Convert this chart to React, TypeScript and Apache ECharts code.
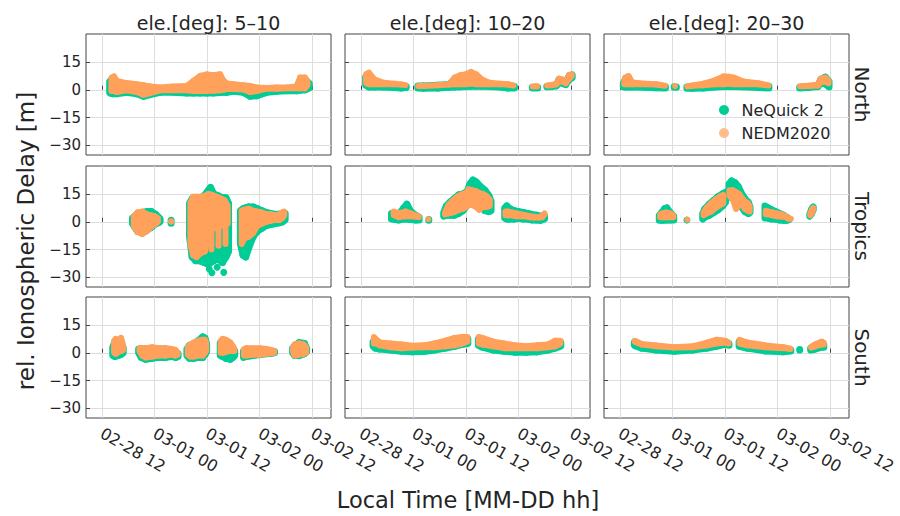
import React, { useEffect, useRef } from 'react';
import * as echarts from 'echarts';

// ---------- axis ticks / labels ----------
const X_TICKS = [12, 24, 36, 48, 60]; // hours since 02-28 00:00
const X_TICK_LABELS = ['02-28 12', '03-01 00', '03-01 12', '03-02 00', '03-02 12'];
const Y_TICKS = [-30, -15, 0, 15];
const Y_TICK_LABELS = ['\u221230', '\u221215', '0', '15'];
const COL_TITLES = ['ele.[deg]: 5\u201310', 'ele.[deg]: 10\u201320', 'ele.[deg]: 20\u201330'];
const ROW_TITLES = ['North', 'Tropics', 'South'];
const SERIES_NAMES = ['NeQuick 2', 'NEDM2020'];

// ---------- data: clusters of [hour, low, high] (m) ----------
// North
const NQ_N1 = [
  [[13.8,-1.7,4.4],[14.4,-2.1,6.0],[15.41,-2.1,4.0],[17.69,-1.4,2.8],[19.97,-2.1,2.3],[21.49,-3.5,1.8],[23.01,-2.6,1.2],[25.29,-1.4,0.6],[28.33,-1.4,1.0],[31.37,-1.7,1.2],[32.89,-1.7,3.5],[34.41,-1.7,6.0],[35.93,-1.7,7.0],[37.44,-1.7,6.5],[38.96,-1.5,6.5],[40.48,-1.4,2.5],[42.0,-0.8,2.2],[44.28,-1.4,1.8],[45.8,-3.5,1.2],[47.32,-3.2,0.6],[49.6,-1.4,0.3],[51.88,-0.8,0.4],[54.16,-0.5,0.5],[56.44,-0.5,1.0],[57.2,-0.2,5.0],[58.34,0.0,5.5],[59.3,1.0,3.5]],
];
const ED_N1 = [
  [[14.2,-0.7,6.5],[14.8,-0.7,7.2],[15.41,-1.2,4.8],[17.69,-0.3,3.6],[19.97,-1.2,3.0],[21.49,-2.7,2.5],[23.01,-1.8,1.8],[25.29,-0.3,1.2],[28.33,-0.3,1.8],[31.37,-0.3,2.1],[32.89,-0.7,4.8],[34.41,-0.7,7.5],[35.93,-0.7,8.3],[37.44,-0.5,7.9],[38.96,-0.2,8.4],[39.7,0.0,5.0],[40.48,0.4,3.4],[42.0,0.4,3.0],[44.28,0.2,2.5],[45.8,-1.2,2.1],[47.32,-0.7,1.2],[49.6,0.6,1.0],[51.88,0.6,1.2],[54.16,0.8,1.2],[56.44,0.8,1.8],[57.2,0.8,6.6],[58.3,0.8,6.6],[58.9,2.5,4.5]],
];
const NQ_N2 = [
  [[13.1,2.5,7.0],[13.84,1.5,8.0],[15.09,1.5,4.5],[17.16,1.5,3.0],[19.66,1.2,2.6],[21.2,1.0,2.2],[22.35,1.2,1.8]],
  [[25.0,1.0,2.0],[26.31,0.8,2.0],[29.64,0.9,2.4],[32.13,1.4,2.8],[33.38,1.5,5.5],[34.63,1.6,6.8],[35.88,1.7,7.3],[37.12,1.9,8.6],[38.37,1.9,7.3],[39.62,1.9,4.6],[41.28,1.8,3.0],[43.78,1.5,2.5],[45.5,1.0,2.2],[47.0,1.0,1.8]],
  [[51.1,1.0,1.4],[52.3,1.0,1.4]],
  [[54.4,1.6,1.8],[55.5,1.8,2.0],[56.6,2.2,2.6],[57.2,4.0,5.5],[58.0,3.5,5.0],[58.7,2.8,4.0],[59.5,5.5,7.5],[60.2,6.5,8.0]],
];
const ED_N2 = [
  [[13.2,3.6,8.4],[13.84,3.0,9.2],[15.09,3.0,5.6],[17.16,3.0,3.8],[19.66,3.0,3.3],[21.2,2.8,2.8],[22.2,2.5,2.5]],
  [[25.1,2.1,2.1],[26.31,2.1,2.1],[29.64,2.5,2.5],[32.13,2.9,3.0],[33.38,3.0,6.5],[34.63,3.0,7.8],[35.88,3.0,8.3],[37.12,3.4,9.6],[38.37,3.0,8.3],[39.62,3.0,5.6],[41.28,3.0,3.8],[43.78,3.0,3.3],[45.5,2.8,3.0],[46.8,2.3,2.3]],
  [[51.2,1.8,1.8],[52.2,1.9,1.9]],
  [[54.5,2.3,2.3],[55.5,2.5,2.6],[56.6,3.0,3.2],[57.2,4.5,6.0],[58.0,4.5,5.5],[58.7,3.5,4.0],[59.5,6.0,8.0],[60.1,7.5,8.2]],
];
const NQ_N3 = [
  [[12.8,1.6,3.6],[13.24,1.5,5.5],[14.0,1.5,6.5],[14.8,1.5,3.0],[17.79,1.3,2.5],[20.28,1.1,2.2],[22.4,1.0,1.6]],
  [[24.4,1.3,1.6],[24.9,1.3,1.5]],
  [[27.3,0.8,1.5],[28.57,0.8,1.8],[31.06,1.0,2.5],[33.55,1.5,4.0],[35.62,1.8,6.2],[36.86,1.8,6.0],[38.11,1.8,5.5],[40.18,1.6,3.5],[43.5,1.2,2.6],[46.0,1.0,1.8]],
  [[53.0,1.0,1.4],[55.1,1.3,1.6],[57.17,1.8,2.2],[57.8,3.5,5.5],[58.83,3.2,6.8],[59.7,1.5,4.5]],
];
const ED_N3 = [
  [[13.0,3.0,4.0],[13.24,3.0,6.5],[14.0,3.0,7.4],[14.8,3.0,4.0],[17.79,3.0,3.3],[20.28,2.8,3.0],[22.3,2.2,2.2]],
  [[24.6,2.0,2.0]],
  [[27.4,1.8,1.8],[28.57,2.2,2.3],[31.06,2.5,3.3],[33.55,3.0,5.0],[35.62,3.0,7.2],[36.86,3.2,7.0],[38.11,3.0,6.5],[40.18,3.0,4.5],[43.5,3.0,3.5],[45.9,2.3,2.5]],
  [[53.1,1.9,1.9],[55.1,2.0,2.2],[57.17,2.3,2.8],[57.8,4.0,6.0],[58.83,4.5,6.5],[59.6,3.5,5.0]],
];
// Tropics
const NQ_T1 = [
  [[19.0,-1.0,2.0],[20.1,-5.0,4.0],[21.2,-6.0,5.0],[22.3,-4.5,5.5],[23.3,-3.0,5.5],[24.3,-1.0,4.0],[24.9,-0.5,2.5],[25.3,0.0,1.5]],
  [[27.8,-0.8,0.8]],
  [[32.0,-8,10],[32.6,-19,12.5],[33.4,-21,13],[34.3,-21,12.5],[35.3,-22,14],[36.3,-23,17],[36.8,-22,18.5],[37.5,-21,15],[38.5,-20,14],[39.5,-22,13],[40.3,-19,13],[40.9,-16,10]],
  [[36.5,-25.5,-25.5]],
  [[37.1,-27.5,-27.5]],
  [[38.3,-24.5,-24.5]],
  [[39.8,-27.3,-27.3]],
  [[43.6,-12,6],[44.2,-18,7],[44.8,-19,7.5],[45.5,-14,8],[46.5,-8,8],[47.5,-5,7],[48.5,-3.5,6],[49.5,-2,5],[50.5,-1.5,4.5],[51.5,-1,4],[52.5,-0.5,4],[53.2,0,4.5],[53.8,1,4.5]],
];
const ED_T1 = [
  [[19.3,-2.0,3.0],[20.1,-5.5,5.0],[21.2,-6.5,5.5],[22.3,-5.0,4.0],[23.1,-3.0,3.5],[24.0,-1.5,3.0],[24.8,0.0,2.0]],
  [[27.8,0.0,0.3]],
  [[32.2,-12,10],[32.8,-18,13.5],[33.6,-19,13.5],[34.5,-17,13.5],[35.5,-16,14],[36.3,-6,15],[37.2,-4,14.5],[38.2,-3,13.5],[39.2,-2,12.5],[40.0,-2,11.5],[40.7,-1,8.5]],
  [[37.0,-15,-6]],
  [[38.6,-13,-3]],
  [[40.2,-12,-2]],
  [[43.9,-12,6],[44.5,-9,6.5],[45.5,-8,7],[46.5,-6,6],[47.5,-2,5.5],[48.5,-1,5],[49.5,0,4],[50.5,0.5,4],[51.5,1,3.5],[52.5,1,4],[53.1,2,5],[53.6,3.5,5.5]],
];
const NQ_T2 = [
  [[19.0,1.5,4.5],[20.7,1.0,4.0],[21.8,1.5,7.5],[22.5,1.5,9.5],[23.4,1.2,5.5],[24.5,1.0,3.5],[25.3,1.0,2.5]],
  [[27.5,0.8,1.2]],
  [[30.9,3.0,5.0],[31.5,3.5,8.5],[32.3,3.5,10.5],[33.3,3.5,12.5],[34.3,4.5,14.5],[35.3,6.0,15.0],[36.3,9.0,16.5],[36.9,10.0,20.5],[37.6,9.5,22.5],[38.3,9.5,21.5],[39.3,8.0,19.0],[40.3,6.0,17.0],[41.2,5.5,14.0],[41.7,6.0,11.0]],
  [[44.8,2.0,7.5],[45.3,1.5,8.5],[46.0,1.5,7.0],[47.0,1.5,6.0],[48.0,2.0,5.5],[49.0,1.5,5.0],[50.0,1.5,4.5],[51.0,1.0,4.0],[52.0,1.0,3.5],[53.0,0.8,3.0],[53.9,1.5,3.0]],
];
const ED_T2 = [
  [[19.5,3.5,5.5],[20.7,2.5,4.5],[22.2,3.0,5.5],[23.4,3.0,4.5],[24.5,2.8,3.5],[25.2,2.5,2.8]],
  [[27.4,1.4,1.4]],
  [[31.2,4.0,5.0],[32.0,4.5,9.0],[32.8,5.0,11.0],[33.5,5.5,12.5],[34.3,6.5,14.0],[35.3,7.0,15.0],[36.0,8.0,15.5],[36.6,9.0,17.5],[37.4,9.0,17.0],[38.3,8.0,16.5],[39.0,6.5,15.5],[39.8,8.0,15.0],[40.6,8.0,14.0],[41.4,8.5,12.0]],
  [[45.0,3.5,5.5],[45.5,3.5,5.5],[46.5,3.5,5.0],[47.5,3.0,4.5],[48.5,3.0,4.0],[49.5,3.0,3.5],[50.5,2.5,3.0],[51.5,2.3,2.7],[52.5,2.3,2.5],[53.3,2.5,3.0],[53.9,4.0,4.5]],
];
const NQ_T3 = [
  [[21.0,0.8,3.5],[21.6,0.8,5.0],[22.2,1.0,7.0],[22.7,1.0,7.5],[23.5,1.0,5.0],[24.3,1.0,3.0]],
  [[27.3,1.0,1.2]],
  [[30.9,1.5,4.5],[31.4,2.5,7.0],[32.4,3.5,9.5],[33.4,5.0,11.5],[34.4,6.5,13.5],[35.4,8.5,15.0],[36.1,10.5,16.0]],
  [[36.9,14.0,20.5],[37.5,13.0,22.0],[38.3,11.0,21.0],[39.0,10.0,19.0],[39.8,8.0,15.0],[40.5,5.5,12.5],[41.3,4.5,10.5],[41.7,5.0,8.0]],
  [[45.1,2.0,8.5],[45.8,2.0,7.5],[46.6,1.5,6.5],[47.5,1.5,5.5],[48.4,1.0,4.5],[49.3,0.8,3.5],[50.0,0.8,2.5],[50.6,1.2,1.6]],
  [[55.3,3.0,4.0],[55.7,4.5,6.5],[56.1,6.5,8.0]],
];
const ED_T3 = [
  [[21.2,2.5,4.0],[21.8,2.5,4.5],[22.5,2.5,5.0],[23.5,2.5,4.5],[24.2,2.5,3.5]],
  [[27.4,1.2,1.2]],
  [[31.1,3.5,5.0],[31.8,4.5,7.5],[32.8,5.5,10.0],[33.8,7.5,12.0],[34.8,9.0,13.5],[35.6,10.0,14.5]],
  [[37.0,14.0,17.0],[37.8,12.0,17.0],[38.5,7.0,16.0],[39.2,9.0,15.0],[39.8,10.0,13.0],[40.5,7.0,11.0],[41.2,6.0,10.0],[41.6,5.5,8.5]],
  [[45.3,4.0,6.0],[45.8,4.0,5.5],[46.8,3.5,5.0],[47.8,3.0,4.5],[48.8,2.8,4.0],[49.8,2.5,3.0],[50.4,1.8,2.0],[51.0,1.6,1.6]],
  [[55.4,3.5,4.5],[55.8,5.0,6.5],[56.1,6.5,7.5]],
];
// South
const NQ_S1 = [
  [[14.5,-1.5,3.0],[15.0,-2.0,6.0],[15.6,-1.5,5.0],[16.3,-1.0,6.5],[16.9,0.0,2.5]],
  [[20.4,0.0,2.0],[21.0,-2.5,2.0],[22.0,-3.5,2.0],[23.5,-3.0,2.0],[25.0,-2.5,2.0],[26.5,-2.5,2.0],[28.0,-2.0,1.0],[28.8,-2.5,0.5],[29.4,-2.0,-0.5]],
  [[31.4,-1.5,2.0],[32.0,-3.0,4.0],[33.0,-3.0,5.0],[34.0,-2.5,6.5],[35.0,-2.5,8.5],[35.5,-1.0,8.0],[35.9,0.5,5.0]],
  [[39.0,-1.5,5.5],[39.5,-2.0,6.5],[40.3,-3.0,6.0],[41.3,-3.5,4.0],[41.9,-2.5,2.5],[42.3,-1.5,1.0]],
  [[44.3,-2.5,1.0],[45.0,-2.0,1.5],[46.5,-1.5,1.5],[48.0,-1.0,1.5],[49.5,-0.5,1.0],[50.6,-0.3,0.5],[51.4,0.0,0.5]],
  [[55.5,0.0,2.5],[56.0,-1.5,4.0],[57.0,-1.5,5.5],[58.2,-0.5,5.0],[58.7,0.5,2.5]],
];
const ED_S1 = [
  [[14.8,0.0,6.5],[15.2,-0.5,7.5],[15.8,0.5,6.0],[16.4,1.0,8.0],[16.9,1.5,3.5]],
  [[20.6,1.0,2.5],[21.2,-1.5,2.5],[22.0,-2.5,2.5],[23.5,-2.0,3.0],[25.0,-1.5,2.5],[26.5,-1.5,2.5],[28.0,-1.0,2.0],[28.8,-1.5,1.5],[29.3,-1.0,0.0]],
  [[31.6,-1.0,3.0],[32.2,-2.0,4.5],[33.0,-2.0,5.5],[34.0,-1.5,6.5],[35.0,-1.5,7.0],[35.5,0.0,7.0],[35.8,1.0,5.5]],
  [[39.1,0.0,6.5],[39.6,0.0,7.5],[40.3,0.5,7.0],[41.3,1.0,5.5],[41.9,1.0,3.5],[42.2,1.0,2.0]],
  [[44.4,-1.5,2.0],[45.0,-1.5,2.5],[46.5,-1.0,2.5],[48.0,-1.0,2.5],[49.5,-0.5,2.0],[50.6,-0.3,1.5],[51.3,0.0,1.0]],
  [[55.6,0.5,3.0],[56.0,-1.5,4.5],[57.0,-1.0,5.0],[58.0,-0.5,4.5],[58.6,0.0,3.0]],
];
const NQ_S2 = [
  [[14.8,3.5,6.0],[15.3,2.5,6.0],[16.3,2.0,4.5],[18.8,1.5,4.0],[21.3,0.8,3.5],[23.8,0.5,3.0],[26.3,0.7,3.0],[28.8,1.5,4.0],[31.3,2.5,5.5],[33.4,3.5,7.0],[35.1,4.5,8.0],[36.4,5.0,7.5]],
  [[38.8,4.0,7.5],[39.7,3.0,7.0],[42.2,1.5,5.0],[44.7,0.8,4.0],[47.2,0.3,3.0],[49.7,0.3,2.5],[52.2,0.5,3.0],[54.7,1.5,3.5],[56.3,2.5,5.0],[57.6,3.5,5.5]],
];
const ED_S2 = [
  [[15.0,5.0,8.5],[15.6,5.0,7.0],[16.3,4.0,5.5],[18.8,3.0,5.0],[21.3,2.5,4.5],[23.8,2.8,3.8],[26.3,3.0,4.0],[28.8,3.0,5.0],[31.3,3.5,6.5],[33.4,4.0,8.0],[35.1,5.0,8.5],[36.3,6.0,8.5]],
  [[38.9,5.0,8.5],[39.7,4.5,8.0],[42.2,3.5,6.0],[44.7,2.5,5.0],[47.2,2.5,4.0],[49.7,2.5,3.5],[52.2,2.5,4.0],[54.7,3.0,4.5],[56.3,3.5,6.5],[57.5,5.0,6.5]],
];
const NQ_S3 = [
  [[15.3,4.0,5.5],[17.0,2.5,4.0],[20.3,1.5,3.0],[24.4,0.8,2.3],[28.6,1.5,2.8],[31.9,2.5,4.5],[34.0,3.5,6.5],[36.0,4.5,6.0],[36.9,4.0,5.0]],
  [[39.2,3.5,6.0],[41.0,2.5,4.5],[45.2,1.0,3.0],[49.3,0.5,2.0],[51.0,1.0,1.5]],
  [[53.0,1.5,1.8]],
  [[55.5,1.5,2.5],[56.5,2.0,4.0],[58.0,3.0,5.5],[58.5,3.0,4.5]],
];
const ED_S3 = [
  [[15.4,6.0,6.5],[17.0,4.5,4.8],[20.3,3.5,4.0],[24.4,2.8,3.0],[28.6,3.0,3.5],[31.9,4.0,5.5],[34.0,5.0,7.0],[36.0,5.5,6.5],[36.8,5.0,5.5]],
  [[39.3,5.0,7.0],[41.0,4.0,5.5],[45.2,3.0,4.0],[49.3,2.5,3.0],[50.9,2.0,2.2]],
  [[55.6,2.8,3.2],[56.5,3.5,4.5],[58.0,4.5,6.0],[58.5,4.5,5.5]],
];

const NEQUICK = [NQ_N1, NQ_N2, NQ_N3, NQ_T1, NQ_T2, NQ_T3, NQ_S1, NQ_S2, NQ_S3];
const NEDM = [ED_N1, ED_N2, ED_N3, ED_T1, ED_T2, ED_T3, ED_S1, ED_S2, ED_S3];

// ---------- layout / style ----------
const GREEN = '#00CC96';
const ORANGE = '#FFA15A';
const LEFTS = [86, 345, 604];
const TOPS = [34, 166, 297];
const GW = 245;
const GH = 121;
const X_MIN = 8.4;
const X_MAX = 64.25;
const Y_MIN = -35.2;
const Y_MAX = 30.1;
const FONT = '"DejaVu Sans", Verdana, sans-serif';
const TXT = '#242424';
const FRAME = '#444444';

function flatten(clusters: number[][][]) {
  const out: number[][] = [];
  clusters.forEach((cl, ci) => cl.forEach((p) => out.push([p[0], p[1], p[2], ci])));
  return out;
}

function makeRenderer(flat: number[][], color: string, size: number) {
  return (params: any, api: any) => {
    const i = params.dataIndex;
    const cur = flat[i];
    const next = flat[i + 1];
    const prev = flat[i - 1];
    const hasNext = !!next && next[3] === cur[3];
    const hasPrev = !!prev && prev[3] === cur[3];
    if (hasNext) {
      const p1 = api.coord([cur[0], cur[1]]);
      const p2 = api.coord([cur[0], cur[2]]);
      const p3 = api.coord([next[0], next[2]]);
      const p4 = api.coord([next[0], next[1]]);
      return {
        type: 'polygon',
        shape: { points: [p1, p2, p3, p4] },
        style: { fill: color, stroke: color, lineWidth: size, lineJoin: 'round' },
      };
    }
    if (!hasPrev) {
      const a = api.coord([cur[0], cur[1]]);
      const b = api.coord([cur[0], cur[2]]);
      if (Math.abs(a[1] - b[1]) < 0.5) {
        return { type: 'circle', shape: { cx: a[0], cy: a[1], r: size / 2 }, style: { fill: color } };
      }
      return {
        type: 'line',
        shape: { x1: a[0], y1: a[1], x2: b[0], y2: b[1] },
        style: { stroke: color, lineWidth: size, lineCap: 'round' },
      };
    }
    return null;
  };
}

export default function App() {
  const ref = useRef<HTMLDivElement>(null);

  useEffect(() => {
    if (!ref.current) return;
    const chart = echarts.init(ref.current, undefined, { renderer: 'svg' });

    const grids: any[] = [];
    const xAxes: any[] = [];
    const yAxes: any[] = [];
    const series: any[] = [];

    for (let r = 0; r < 3; r++) {
      for (let c = 0; c < 3; c++) {
        const g = r * 3 + c;
        grids.push({
          left: LEFTS[c], top: TOPS[r], width: GW, height: GH,
          show: true, borderColor: FRAME, borderWidth: 1, backgroundColor: '#ffffff',
        });
        xAxes.push({
          gridIndex: g, type: 'value', min: X_MIN, max: X_MAX,
          axisLine: { show: false },
          axisTick: { show: true, inside: true, length: 4, lineStyle: { color: FRAME }, customValues: X_TICKS },
          axisLabel: {
            show: r === 2, customValues: X_TICKS, rotate: -30, margin: 14,
            fontSize: 16, fontFamily: FONT, color: TXT,
            formatter: (v: number) => X_TICK_LABELS[X_TICKS.indexOf(v)] ?? '',
          },
          splitLine: { show: true, lineStyle: { color: '#dddddd', width: 1 } },
        });
        yAxes.push({
          gridIndex: g, type: 'value', min: Y_MIN, max: Y_MAX,
          axisLine: { show: false },
          axisTick: { show: true, inside: true, length: 4, lineStyle: { color: FRAME }, customValues: Y_TICKS },
          axisLabel: {
            show: c === 0, customValues: Y_TICKS, margin: 5,
            fontSize: 15, fontFamily: FONT, color: TXT,
            formatter: (v: number) => Y_TICK_LABELS[Y_TICKS.indexOf(v)] ?? '',
          },
          splitLine: { show: true, lineStyle: { color: '#dddddd', width: 1 } },
        });
        const fg = flatten(NEQUICK[g]);
        const fo = flatten(NEDM[g]);
        series.push({
          type: 'custom', name: SERIES_NAMES[0], xAxisIndex: g, yAxisIndex: g,
          data: fg, encode: { x: 0, y: [1, 2] }, itemStyle: { color: GREEN },
          renderItem: makeRenderer(fg, GREEN, 7), silent: true, z: 2,
        });
        series.push({
          type: 'custom', name: SERIES_NAMES[1], xAxisIndex: g, yAxisIndex: g,
          data: fo, encode: { x: 0, y: [1, 2] }, itemStyle: { color: ORANGE },
          renderItem: makeRenderer(fo, ORANGE, 6), silent: true, z: 3,
        });
      }
    }

    const graphic: any[] = [];
    COL_TITLES.forEach((t, c) => {
      graphic.push({
        type: 'text', x: LEFTS[c] + GW / 2, y: 23,
        style: { text: t, font: `19px ${FONT}`, fill: TXT, textAlign: 'center', textVerticalAlign: 'middle' },
      });
    });
    ROW_TITLES.forEach((t, r) => {
      graphic.push({
        type: 'text', x: 862, y: TOPS[r] + GH / 2, rotation: -Math.PI / 2,
        style: { text: t, font: `20px ${FONT}`, fill: TXT, textAlign: 'center', textVerticalAlign: 'middle' },
      });
    });
    graphic.push({
      type: 'text', x: 26, y: 241, rotation: Math.PI / 2,
      style: { text: 'rel. Ionospheric Delay [m]', font: `23px ${FONT}`, fill: TXT, textAlign: 'center', textVerticalAlign: 'middle' },
    });
    graphic.push({
      type: 'text', x: 468, y: 500,
      style: { text: 'Local Time [MM-DD hh]', font: `22.5px ${FONT}`, fill: TXT, textAlign: 'center', textVerticalAlign: 'middle' },
    });

    chart.setOption({
      animation: false,
      backgroundColor: '#ffffff',
      grid: grids,
      xAxis: xAxes,
      yAxis: yAxes,
      series,
      graphic,
      legend: {
        orient: 'vertical', left: 714, top: 97,
        itemWidth: 25, itemHeight: 10, itemGap: 7, selectedMode: false,
        textStyle: { fontSize: 16, fontFamily: FONT, color: TXT },
        data: [
          { name: SERIES_NAMES[0], icon: 'circle', itemStyle: { color: GREEN } },
          { name: SERIES_NAMES[1], icon: 'circle', itemStyle: { color: '#FFBD8B' } },
        ],
      },
    });

    return () => chart.dispose();
  }, []);

  return <div ref={ref} style={{ position: 'fixed', left: 0, top: 0, width: 900, height: 516 }} />;
}
